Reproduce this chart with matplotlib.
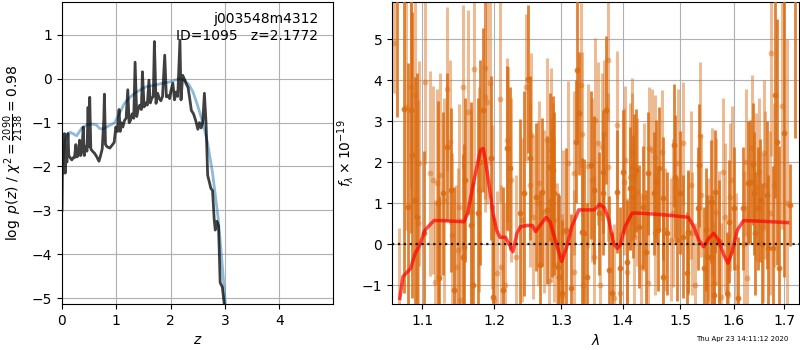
import matplotlib
matplotlib.use("Agg")
import matplotlib.pyplot as plt
import matplotlib.ticker as mticker
import numpy as np

# ---------------- left panel: p(z) ----------------
z_pz = [0.000, 0.015, 0.030, 0.045, 0.060, 0.075, 0.090, 0.110, 0.125, 0.150, 0.180, 0.205,
        0.230, 0.255, 0.275, 0.300, 0.325, 0.345, 0.370, 0.390, 0.410, 0.430, 0.460, 0.480,
        0.495, 0.510, 0.530, 0.560, 0.600, 0.640, 0.680, 0.710, 0.740, 0.770, 0.780, 0.800,
        0.830, 0.880, 0.930, 0.960, 0.990, 1.020, 1.050, 1.070, 1.090, 1.120, 1.150, 1.180,
        1.210, 1.235, 1.260, 1.290, 1.320, 1.345, 1.375, 1.400, 1.430, 1.460, 1.480, 1.510,
        1.540, 1.570, 1.600, 1.625, 1.650, 1.680, 1.700, 1.730, 1.760, 1.790, 1.820, 1.850,
        1.890, 1.920, 1.950, 1.980, 2.000, 2.040, 2.070, 2.100, 2.130, 2.170, 2.190, 2.220,
        2.250, 2.280, 2.320, 2.350, 2.380, 2.420, 2.460, 2.500, 2.530, 2.560, 2.590, 2.620,
        2.650, 2.680, 2.710, 2.740, 2.770, 2.800, 2.820, 2.850, 2.880, 2.910, 2.950, 3.000,
        3.050]
logpz = [-3.0, -1.3, -2.15, -1.25, -2.15, -1.7, -1.9, -1.25, -1.75, -1.8, -1.85, -1.8,
         -1.8, -1.5, -1.78, -1.75, -1.4, -1.75, -1.6, -1.1, -1.75, -1.55, -1.65, -0.65,
         -1.55, -0.42, -1.6, -1.65, -1.7, -1.78, -1.88, -1.75, -1.6, -0.9, -0.35, -1.5,
         -1.55, -1.58, -1.5, -1.45, -1.1, -1.2, -0.7, -1.2, -1.0, -1.1, -0.95, -0.9,
         -0.25, -1.0, -0.95, -0.8, -0.9, 0.38, -0.86, -0.7, -0.6, -0.7, 0.16, -0.64,
         -0.55, -0.6, -0.03, -0.55, -0.45, -0.4, 0.85, -0.56, -0.33, -0.45, -0.5, -0.4,
         0.54, -0.41, -0.38, -0.45, -0.3, -0.1, -0.48, -0.3, -0.4, 0.88, -0.48, 0.08,
         0.0, -0.1, -0.2, -0.45, -0.72, -0.8, -0.95, -1.15, -1.0, -1.12, -1.0, -0.33,
         -1.0, -2.2, -2.35, -2.5, -2.55, -3.2, -3.45, -3.25, -3.35, -4.65, -4.75, -5.3,
         -6.5]

z_prior = [0.0, 0.03, 0.06, 0.10, 0.15, 0.20, 0.27, 0.36, 0.46, 0.55, 0.63, 0.69, 0.75,
           0.85, 0.97, 1.05, 1.15, 1.25, 1.37, 1.55, 1.73, 1.85, 1.98, 2.16, 2.25, 2.33,
           2.41, 2.48, 2.56, 2.62, 2.68, 2.77, 2.87, 2.93, 3.00, 3.05]
logp_prior = [-2.1, -1.7, -1.4, -1.25, -1.22, -1.25, -1.3, -1.13, -1.05, -1.03, -1.05, -1.13,
              -1.15, -1.08, -1.0, -0.8, -0.56, -0.42, -0.3, -0.18, -0.14, -0.1, -0.07, 0.0,
              -0.03, -0.12, -0.3, -0.55, -0.87, -1.15, -1.47, -2.15, -3.14, -3.97, -5.03, -6.0]

root_name = "j003548m4312"
obj_id = 1095
z_best = 2.1772
chi2_num, chi2_den, chi2_red = 2090, 2138, 0.98
timestamp = "Thu Apr 23 14:11:12 2020"

# ---------------- right panel: spectrum ----------------
wave_a = [1.068, 1.076, 1.082, 1.085, 1.087, 1.091, 1.094, 1.103, 1.121, 1.123, 1.128, 1.133,
          1.139, 1.143, 1.155, 1.157, 1.158, 1.166, 1.170, 1.177, 1.180, 1.183, 1.195, 1.198,
          1.213, 1.219, 1.223, 1.238, 1.243, 1.249, 1.253, 1.261, 1.268, 1.271, 1.279, 1.283,
          1.286, 1.288, 1.289, 1.295, 1.297, 1.302, 1.308, 1.316, 1.324, 1.326, 1.328, 1.334,
          1.336, 1.342, 1.347, 1.352, 1.360, 1.367, 1.368, 1.372, 1.378, 1.383, 1.391, 1.396,
          1.401, 1.408, 1.413, 1.418, 1.420, 1.423, 1.427, 1.434, 1.439, 1.444, 1.453, 1.458,
          1.460, 1.462, 1.469, 1.470, 1.477, 1.490, 1.491, 1.495, 1.500, 1.506, 1.513, 1.515,
          1.532, 1.535, 1.543, 1.547, 1.550, 1.556, 1.558, 1.562, 1.565, 1.571, 1.588, 1.590,
          1.601, 1.609, 1.617, 1.627, 1.631, 1.637, 1.639, 1.642, 1.648, 1.652, 1.656, 1.666,
          1.668, 1.678, 1.682, 1.686, 1.690, 1.700, 1.712, 1.722]
flux_a = [7.0, 3.3, 0.92, 3.28, 2.18, 1.08, 0.67, 0.27, 1.0, -0.83, 1.24, 2.38,
          1.33, -1.11, -0.3, -0.06, 1.57, 0.47, -0.99, 0.76, 2.0, 3.28, 2.1, -1.28,
          -1.11, 2.34, 1.85, 0.76, 1.24, 4.03, 2.1, 1.16, -0.5, 1.28, 0.84, 1.89,
          1.0, 1.81, 1.24, -0.55, -0.79, -1.2, 0.35, -1.07, 2.5, 4.25, 3.2, 0.31,
          0.27, -0.8, 1.93, 1.33, 0.76, 1.77, 1.24, 3.28, -0.63, -1.2, 1.28, -0.59,
          1.77, -0.42, 1.37, 1.16, 1.69, 1.81, 0.43, 0.9, -0.18, 1.73, 1.24, 1.53,
          0.35, 1.85, 1.12, -0.79, 0.27, 2.42, 1.65, 0.11, 1.26, 0.19, -0.71, 0.31,
          0.88, 1.93, -0.59, 0.35, -0.3, 1.04, -0.3, -1.24, 1.28, 0.07, -1.2, 0.55,
          0.88, -1.32, 0.88, 1.5, 1.53, 1.96, 1.24, 0.27, 0.88, 1.08, 0.0, 1.2,
          -0.1, -0.1, 3.64, 2.5, -0.59, 2.71, 0.96, 6.8]
err_a = [3.9, 4.5, 3.5, 3.0, 3.5, 3.0, 3.5, 2.0, 2.5, 2.0, 2.0, 1.8,
         2.0, 2.5, 2.5, 2.5, 2.0, 3.0, 2.5, 2.8, 2.5, 2.0, 2.0, 2.0,
         2.5, 2.0, 2.0, 2.3, 2.5, 1.8, 2.0, 1.8, 1.8, 1.8, 1.8, 1.8,
         1.8, 1.8, 2.0, 1.8, 2.0, 1.8, 2.0, 1.8, 1.5, 1.8, 1.5, 1.8,
         1.8, 1.8, 1.8, 1.8, 1.5, 1.5, 1.5, 1.8, 1.8, 1.5, 1.5, 1.5,
         1.5, 1.5, 1.5, 1.5, 1.5, 1.5, 1.5, 1.5, 1.5, 1.5, 1.5, 1.5,
         1.5, 1.5, 1.5, 1.5, 1.5, 1.5, 1.5, 1.5, 1.5, 1.5, 1.5, 1.5,
         1.5, 1.5, 1.5, 1.5, 1.5, 1.5, 1.5, 1.5, 1.5, 1.5, 1.5, 1.5,
         1.5, 1.5, 1.5, 1.5, 1.5, 1.5, 1.5, 1.5, 1.5, 1.5, 1.5, 1.8,
         1.8, 2.0, 2.5, 3.0, 3.0, 3.5, 1.0, 4.2]

wave_b = [1.063, 1.070, 1.079, 1.086, 1.091, 1.095, 1.096, 1.104, 1.110, 1.115, 1.117, 1.120,
          1.124, 1.129, 1.134, 1.138, 1.140, 1.146, 1.148, 1.150, 1.152, 1.156, 1.162, 1.167,
          1.171, 1.178, 1.186, 1.187, 1.190, 1.194, 1.197, 1.199, 1.204, 1.208, 1.210, 1.216,
          1.218, 1.220, 1.224, 1.231, 1.241, 1.246, 1.252, 1.254, 1.257, 1.264, 1.266, 1.273,
          1.278, 1.281, 1.284, 1.285, 1.287, 1.289, 1.294, 1.301, 1.303, 1.311, 1.320, 1.321,
          1.331, 1.333, 1.335, 1.343, 1.350, 1.353, 1.355, 1.359, 1.362, 1.365, 1.369, 1.375,
          1.376, 1.385, 1.390, 1.396, 1.402, 1.404, 1.407, 1.412, 1.415, 1.416, 1.419, 1.424,
          1.432, 1.436, 1.443, 1.445, 1.450, 1.455, 1.456, 1.467, 1.474, 1.483, 1.488, 1.497,
          1.505, 1.514, 1.519, 1.522, 1.528, 1.537, 1.539, 1.551, 1.555, 1.559, 1.563, 1.566,
          1.572, 1.575, 1.580, 1.584, 1.589, 1.593, 1.597, 1.605, 1.619, 1.623, 1.625, 1.636,
          1.643, 1.649, 1.657, 1.660, 1.662, 1.672, 1.674, 1.679, 1.696, 1.706]
flux_b = [4.9, -1.8, 3.36, 3.85, 3.64, 0.51, 1.98, 3.97, 1.73, 1.57, -0.91, 1.49,
          1.69, 1.08, 3.78, 2.5, 0.23, -0.55, -0.15, 0.92, -1.36, 3.83, 3.22, 0.8,
          4.27, 1.33, 4.29, 3.6, 3.48, 3.93, 0.9, -1.36, -0.7, 3.54, -0.55, -1.0,
          2.54, 2.33, 1.57, -0.3, 0.6, 3.83, 1.45, 2.67, 0.67, 1.0, 1.49, 0.8,
          2.54, -0.9, 1.08, 2.3, 1.45, 0.6, -0.5, -1.25, 0.29, 1.98, -0.67, 1.73,
          3.89, 2.7, -1.0, 1.9, 1.57, -0.3, 3.03, 2.46, -0.99, 2.38, 2.7, 4.5,
          1.89, -1.3, 2.91, -1.2, 1.53, 2.06, -0.67, 1.65, 2.26, 1.89, 0.19, 1.28,
          -0.55, 1.16, -0.95, 2.34, 2.3, 2.14, 0.27, 2.26, 0.35, 0.11, 0.76, 1.98,
          2.46, 0.27, 1.45, 0.27, -0.99, 2.64, 1.2, 0.11, -0.3, 1.04, -0.95, 0.8,
          0.0, -1.28, 1.77, 0.67, -1.24, 1.16, 1.57, -0.55, 0.0, 2.0, -0.83, 2.34,
          1.4, 1.77, 0.4, 2.22, 1.45, 0.76, 4.66, 1.45, 3.37, 1.02]
err_b = [1.2, 2.2, 3.0, 2.5, 3.0, 3.0, 2.5, 2.0, 2.5, 2.3, 2.0, 2.3,
         2.5, 2.5, 2.0, 2.0, 2.0, 2.0, 2.0, 2.5, 2.0, 2.0, 2.5, 2.5,
         2.8, 2.5, 3.5, 2.5, 2.5, 2.0, 2.0, 2.0, 2.0, 2.5, 2.0, 2.0,
         2.0, 2.0, 2.0, 2.0, 2.0, 1.8, 2.0, 2.0, 2.0, 2.0, 2.0, 2.0,
         2.0, 2.0, 2.0, 2.0, 2.0, 2.0, 2.0, 2.0, 2.0, 2.0, 2.0, 2.0,
         2.0, 2.0, 2.0, 2.0, 2.0, 2.0, 2.0, 2.0, 2.0, 1.8, 1.8, 1.5,
         1.8, 1.8, 1.8, 1.5, 1.8, 1.8, 1.8, 1.8, 1.8, 1.8, 1.8, 1.8,
         1.8, 1.8, 1.8, 1.5, 1.5, 1.5, 1.5, 1.5, 1.5, 1.5, 1.8, 1.8,
         1.5, 1.5, 1.8, 1.5, 1.5, 1.8, 1.5, 1.5, 1.5, 1.8, 1.5, 1.8,
         1.8, 1.8, 1.8, 1.8, 1.5, 1.8, 1.8, 1.8, 1.8, 1.8, 1.8, 1.8,
         1.8, 1.8, 1.8, 1.8, 1.8, 2.0, 2.5, 2.0, 3.0, 4.0]

wave_model = [1.071, 1.075, 1.085, 1.091, 1.097, 1.104, 1.116, 1.125, 1.157, 1.162, 1.171,
              1.180, 1.184, 1.187, 1.194, 1.198, 1.203, 1.208, 1.216, 1.221, 1.227, 1.233,
              1.238, 1.248, 1.256, 1.261, 1.268, 1.277, 1.283, 1.291, 1.301, 1.309, 1.317,
              1.328, 1.342, 1.353, 1.362, 1.370, 1.377, 1.385, 1.391, 1.396, 1.404, 1.416,
              1.430, 1.471, 1.515, 1.525, 1.534, 1.543, 1.553, 1.562, 1.571, 1.581, 1.589,
              1.596, 1.607, 1.619, 1.659, 1.707]
flux_model = [-1.32, -0.79, -0.59, -0.22, -0.02, 0.35, 0.58, 0.58, 0.55, 0.76, 1.57,
              2.30, 2.34, 2.06, 1.24, 0.76, 0.35, 0.17, 0.17, 0.02, -0.18, 0.27,
              0.43, 0.46, 0.46, 0.31, 0.47, 0.66, 0.55, 0.11, -0.42, -0.06, 0.43,
              0.84, 0.84, 0.84, 0.98, 0.88, 0.59, 0.02, -0.10, -0.02, 0.43, 0.76,
              0.76, 0.72, 0.66, 0.43, 0.11, -0.06, 0.15, 0.27, 0.11, -0.26, -0.46,
              -0.22, 0.35, 0.58, 0.56, 0.53]

spec_color = "#da6c12"

fig = plt.figure(figsize=(8, 3.5), dpi=100)
ax1 = fig.add_axes([0.0775, 0.131, 0.339, 0.863])
ax2 = fig.add_axes([0.490, 0.131, 0.509, 0.863])

# left panel
ax1.plot(z_pz, logpz, color="k", alpha=0.75, lw=2, zorder=3)
ax1.plot(z_prior, logp_prior, color="tab:blue", alpha=0.5, lw=2, zorder=2)
ax1.set_xlim(0, 4.99)
ax1.set_ylim(-5.14, 1.75)
ax1.set_xticks([0, 1, 2, 3, 4])
ax1.set_yticks([-5, -4, -3, -2, -1, 0, 1])
ax1.grid(True, color="#b0b0b0", lw=0.8)
ax1.set_axisbelow(True)
ax1.set_xlabel(r"$z$")
ax1.set_ylabel(r"$\log\ p(z)$ / $\chi^2=\frac{%d}{%d}=%.2f$" % (chi2_num, chi2_den, chi2_red))
ax1.text(0.945, 0.968, "%s\nID=%d   z=%.4f" % (root_name, obj_id, z_best),
         transform=ax1.transAxes, ha="right", va="top", fontsize=10, linespacing=1.3)

# right panel
ax2.errorbar(wave_b, flux_b, yerr=err_b, fmt="o", color=spec_color, alpha=0.45,
             ms=4.2, elinewidth=2.2, capsize=0, mec="none", zorder=2)
ax2.errorbar(wave_a, flux_a, yerr=err_a, fmt="o", color=spec_color, alpha=0.85,
             ms=4.2, elinewidth=2.0, capsize=0, mec="none", zorder=3)
ax2.plot(wave_model, flux_model, color="red", alpha=0.7, lw=2.5, zorder=5)
ax2.axhline(0, color="k", ls=":", lw=1.6, alpha=0.85, zorder=6)
ax2.set_xscale("log")
ax2.set_xlim(1.061, 1.731)
ax2.set_ylim(-1.46, 5.91)
ax2.xaxis.set_major_locator(mticker.FixedLocator([1.1, 1.2, 1.3, 1.4, 1.5, 1.6, 1.7]))
ax2.xaxis.set_major_formatter(mticker.FormatStrFormatter("%.1f"))
ax2.xaxis.set_minor_locator(mticker.NullLocator())
ax2.set_yticks([-1, 0, 1, 2, 3, 4, 5])
ax2.grid(True, color="#b0b0b0", lw=0.8)
ax2.set_axisbelow(True)
ax2.set_xlabel(r"$\lambda$")
ax2.set_ylabel(r"$f_\lambda\times10^{-19}$")

fig.text(0.985, 0.03, timestamp, ha="right", va="center", fontsize=5)

fig.savefig("out.png", dpi=100)
